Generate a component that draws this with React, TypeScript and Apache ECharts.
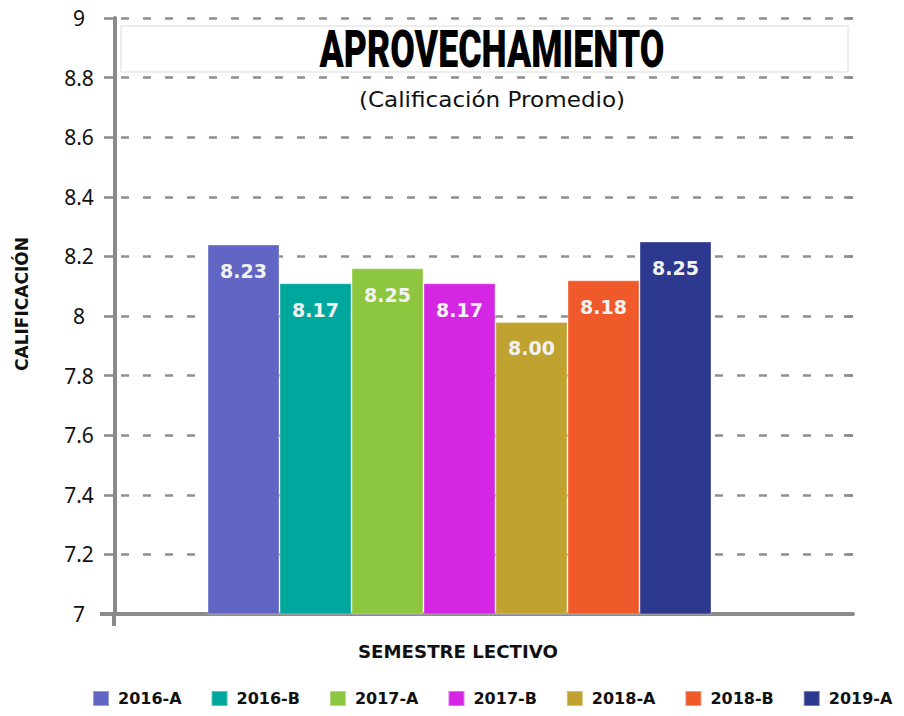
import React, { useEffect, useRef } from "react";
import * as echarts from "echarts";

const semesters = ["2016-A", "2016-B", "2017-A", "2017-B", "2018-A", "2018-B", "2019-A"];
const barValues = [8.24, 8.11, 8.16, 8.11, 7.98, 8.12, 8.25];
const barLabels = ["8.23", "8.17", "8.25", "8.17", "8.00", "8.18", "8.25"];
const barColors = ["#6166c4", "#00a79d", "#8dc63f", "#d526e4", "#bfa22f", "#f05a2a", "#2d388f"];
const yMin = 7;
const yMax = 9;
const yStep = 0.2;

const titleText = "APROVECHAMIENTO";
const subtitleText = "(Calificación Promedio)";
const xName = "SEMESTRE LECTIVO";
const yName = "CALIFICACIÓN";

const FONT = "'Noto Sans', 'Open Sans', sans-serif";
const WIDE = "'DejaVu Sans', 'Noto Sans', sans-serif";
const AXIS_GRAY = "#8a8a8a";

// layout
const W = 904;
const H = 716;
const gridLeft = 115;
const gridTop = 18;
const gridBottomY = 614;
const axisRight = 853;
const barsCenter = 459.5;

export default function App() {
  const ref = useRef<HTMLDivElement>(null);

  useEffect(() => {
    if (!ref.current) return;
    const chart = echarts.init(ref.current, undefined, { renderer: "svg" });
    const barsRight = W - (2 * barsCenter - gridLeft);

    const series = semesters.map((name, i) => ({
      type: "bar",
      name,
      xAxisIndex: 1,
      yAxisIndex: 1,
      data: [barValues[i]],
      barWidth: 72,
      barGap: "0%",
      itemStyle: {
        color: barColors[i],
        borderColor: "rgba(255,255,255,0.35)",
        borderWidth: 1,
      },
      label: {
        show: true,
        position: "insideTop",
        distance: 17,
        formatter: () => barLabels[i],
        color: "#f2f2f2",
        fontFamily: WIDE,
        fontWeight: "bold",
        fontSize: 19,
      },
    }));

    chart.setOption({
      animation: false,
      backgroundColor: "#ffffff",
      grid: [
        { left: gridLeft, right: W - axisRight, top: gridTop, bottom: H - gridBottomY },
        { left: gridLeft, right: barsRight, top: gridTop, bottom: H - gridBottomY },
      ],
      xAxis: [
        {
          type: "category",
          gridIndex: 0,
          data: [""],
          axisLine: { show: true, lineStyle: { color: AXIS_GRAY, width: 4 } },
          axisTick: { show: false },
          axisLabel: { show: false },
          splitLine: { show: false },
        },
        {
          type: "category",
          gridIndex: 1,
          data: [""],
          show: false,
        },
      ],
      yAxis: [
        {
          type: "value",
          gridIndex: 0,
          min: yMin,
          max: yMax,
          interval: yStep,
          axisLine: { show: true, lineStyle: { color: AXIS_GRAY, width: 4 } },
          axisTick: { show: true, length: 11, lineStyle: { color: AXIS_GRAY, width: 2.5 } },
          axisLabel: {
            margin: 36,
            align: "center",
            color: "#111",
            fontFamily: FONT,
            fontSize: 21,
          },
          splitLine: {
            show: true,
            lineStyle: {
              color: "#8f8f8f",
              width: 2.5,
              type: [8, 14],
              dashOffset: 15.7,
            },
          },
        },
        {
          type: "value",
          gridIndex: 1,
          min: yMin,
          max: yMax,
          interval: yStep,
          show: false,
        },
        {
          type: "value",
          gridIndex: 0,
          min: yMin,
          max: yMax,
          interval: yStep,
          axisLine: { show: false },
          axisTick: { show: true, inside: true, length: 9, lineStyle: { color: AXIS_GRAY, width: 2.5 } },
          axisLabel: { show: false },
          splitLine: { show: false },
        },
      ],
      legend: {
        data: semesters,
        left: 87,
        bottom: 4,
        itemWidth: 16,
        itemHeight: 15,
        itemGap: 29,
        icon: "rect",
        textStyle: {
          fontFamily: WIDE,
          fontWeight: "bold",
          fontSize: 16,
          color: "#111",
          padding: [0, 0, 0, 4],
        },
      },
      graphic: [
        {
          type: "rect",
          shape: { x: 121, y: 26, width: 727, height: 46 },
          style: { fill: "#ffffff", stroke: "#dcdcdc", lineWidth: 1 },
          z: 10,
        },
        {
          type: "text",
          x: 492,
          y: 50,
          scaleX: 0.7,
          z: 11,
          style: {
            text: titleText,
            fontFamily: "Roboto, 'Noto Sans', sans-serif",
            fontWeight: 900,
            fontSize: 51,
            fill: "#000",
            align: "center",
            verticalAlign: "middle",
          },
        },
        {
          type: "text",
          x: 492,
          y: 99,
          scaleX: 1.05,
          z: 11,
          style: {
            text: subtitleText,
            fontFamily: WIDE,
            fontSize: 22,
            fill: "#111",
            align: "center",
            verticalAlign: "middle",
          },
        },
        {
          type: "text",
          x: 458,
          y: 652,
          scaleX: 1.07,
          z: 11,
          style: {
            text: xName,
            fontFamily: WIDE,
            fontWeight: "bold",
            fontSize: 17,
            fill: "#111",
            align: "center",
            verticalAlign: "middle",
          },
        },
        {
          type: "text",
          x: 22,
          y: 304,
          rotation: Math.PI / 2,
          z: 11,
          style: {
            text: yName,
            fontFamily: WIDE,
            fontWeight: "bold",
            fontSize: 17,
            fill: "#111",
            align: "center",
            verticalAlign: "middle",
          },
        },
        {
          type: "line",
          shape: { x1: 100, y1: gridBottomY, x2: gridLeft, y2: gridBottomY },
          style: { stroke: AXIS_GRAY, lineWidth: 4 },
          z: 5,
        },
        {
          type: "line",
          shape: { x1: gridLeft - 1, y1: gridBottomY, x2: gridLeft - 1, y2: gridBottomY + 12 },
          style: { stroke: AXIS_GRAY, lineWidth: 4 },
          z: 5,
        },
      ],
      series,
    });

    return () => chart.dispose();
  }, []);

  return <div ref={ref} style={{ width: W, height: H, position: "absolute", left: 0, top: 0 }} />;
}
